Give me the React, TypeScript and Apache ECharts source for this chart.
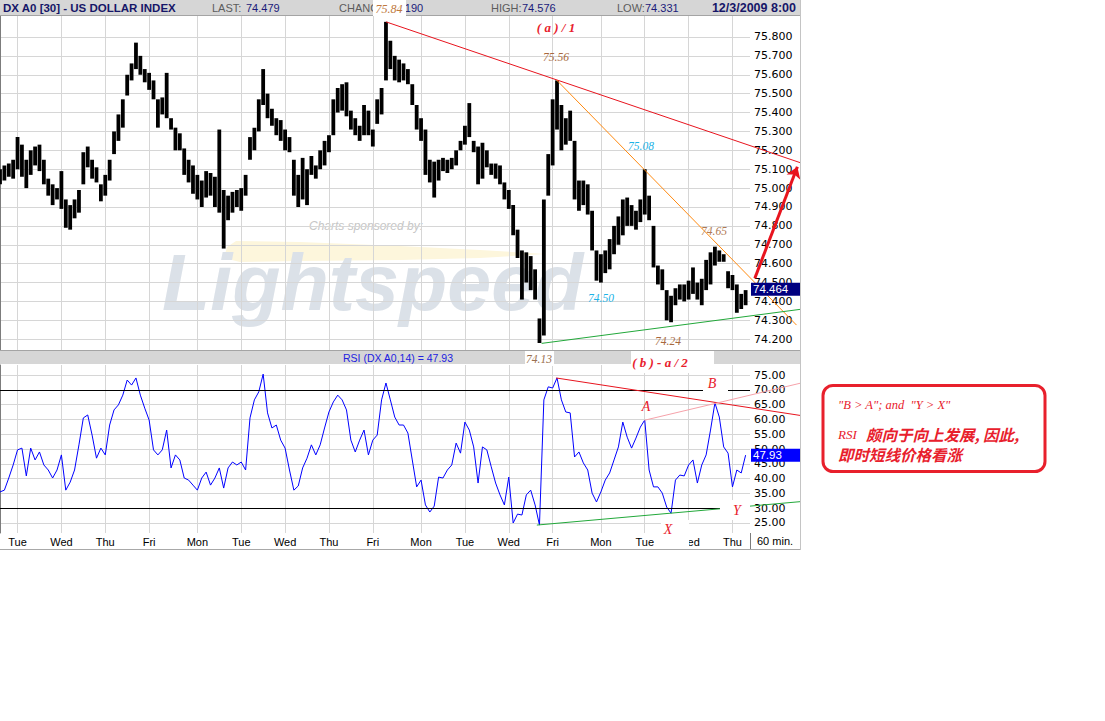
import React, { useEffect, useRef } from 'react';
import * as echarts from 'echarts';

// ---------- data ----------
const DAY_NAMES = ['Tue', 'Wed', 'Thu', 'Fri', 'Mon', 'Tue', 'Wed', 'Thu', 'Fri', 'Mon', 'Tue', 'Wed', 'Fri', 'Mon', 'Tue', 'Wed', 'Thu'];
const DAY_START = [4, 14, 24, 34, 45, 55, 65, 75, 85, 96, 106, 116, 126, 137, 147, 157, 167];
const PRICE_TICKS = [74.2, 74.3, 74.4, 74.5, 74.6, 74.7, 74.8, 74.9, 75.0, 75.1, 75.2, 75.3, 75.4, 75.5, 75.6, 75.7, 75.8];
const RSI_TICKS = [25, 30, 35, 40, 45, 50, 55, 60, 65, 70, 75];
const RSI_LEVELS = [70, 30];
const X_RANGE = [0, 171];
const PRICE_RANGE = [74.143, 75.911];
const RSI_RANGE = [21.62, 78.38];

const HIGH = [
  75.10, 75.12, 75.13, 75.15, 75.27, 75.23, 75.15, 75.20, 75.22, 75.23,
  75.15, 75.05, 75.02, 75.00, 75.09, 74.94, 74.91, 74.94, 74.99, 75.19,
  75.22, 75.15, 75.11, 75.02, 75.07, 75.15, 75.30, 75.39, 75.47, 75.60,
  75.66, 75.77, 75.70, 75.63, 75.61, 75.57, 75.47, 75.48, 75.61, 75.37,
  75.32, 75.29, 75.21, 75.15, 75.12, 75.07, 75.04, 75.09, 75.08, 75.06,
  75.31, 74.99, 74.96, 74.98, 74.99, 75.00, 75.07, 75.27, 75.32, 75.47,
  75.63, 75.50, 75.42, 75.37, 75.36, 75.31, 75.27, 75.15, 75.07, 75.16,
  75.10, 75.17, 75.12, 75.20, 75.25, 75.28, 75.47, 75.53, 75.55, 75.56,
  75.41, 75.37, 75.33, 75.44, 75.41, 75.31, 75.47, 75.53, 75.88, 75.78,
  75.70, 75.68, 75.66, 75.63, 75.55, 75.44, 75.37, 75.31, 75.15, 75.14,
  75.15, 75.16, 75.15, 75.16, 75.20, 75.25, 75.33, 75.45, 75.25, 75.22,
  75.24, 75.20, 75.13, 75.13, 75.12, 75.03, 74.99, 74.91, 74.78, 74.67,
  74.66, 74.64, 74.57, 74.31, 74.94, 75.18, 75.47, 75.57, 75.44, 75.37,
  75.41, 75.25, 75.04, 75.04, 75.02, 74.88, 74.67, 74.65, 74.67, 74.73,
  74.80, 74.85, 74.94, 74.95, 74.91, 74.88, 74.94, 75.10, 74.96, 74.80,
  74.59, 74.57, 74.46, 74.43, 74.47, 74.49, 74.49, 74.51, 74.58, 74.50,
  74.52, 74.62, 74.66, 74.69, 74.67, 74.65, 74.56, 74.54, 74.49, 74.44,
  74.46,
];

const LOW = [
  75.02, 75.04, 75.06, 75.05, 75.10, 75.06, 75.00, 75.07, 75.12, 75.09,
  75.02, 74.96, 74.91, 74.94, 74.89, 74.79, 74.78, 74.84, 74.87, 75.02,
  75.11, 75.05, 75.03, 74.93, 74.96, 75.04, 75.18, 75.25, 75.32, 75.49,
  75.57, 75.63, 75.60, 75.56, 75.52, 75.47, 75.32, 75.39, 75.37, 75.31,
  75.20, 75.20, 75.07, 75.03, 74.97, 74.94, 74.90, 74.95, 74.96, 74.90,
  74.87, 74.68, 74.83, 74.87, 74.90, 74.88, 74.96, 75.15, 75.20, 75.30,
  75.44, 75.37, 75.33, 75.28, 75.25, 75.20, 75.19, 74.96, 74.90, 74.94,
  74.91, 75.07, 75.05, 75.10, 75.12, 75.19, 75.28, 75.40, 75.41, 75.38,
  75.31, 75.28, 75.25, 75.28, 75.28, 75.22, 75.34, 75.39, 75.57, 75.63,
  75.57, 75.56, 75.57, 75.55, 75.44, 75.31, 75.25, 75.07, 75.03, 74.95,
  75.04, 75.09, 75.08, 75.10, 75.12, 75.20, 75.23, 75.27, 75.19, 75.02,
  75.05, 75.11, 75.07, 75.05, 75.02, 74.94, 74.89, 74.75, 74.63, 74.41,
  74.50, 74.46, 74.41, 74.18, 74.22, 74.96, 75.12, 75.31, 75.20, 75.23,
  75.25, 74.94, 74.88, 74.91, 74.86, 74.67, 74.51, 74.50, 74.55, 74.57,
  74.65, 74.70, 74.75, 74.80, 74.80, 74.78, 74.82, 74.86, 74.83, 74.58,
  74.49, 74.46, 74.30, 74.29, 74.38, 74.41, 74.40, 74.41, 74.44, 74.41,
  74.38, 74.46, 74.49, 74.59, 74.61, 74.61, 74.47, 74.46, 74.34, 74.36,
  74.38,
];

const RSI = [
  35.5, 36.1, 40.2, 44.6, 49.7, 50.3, 40.9, 50.3, 46.3, 49.0,
  44.6, 42.9, 40.2, 42.9, 48.0, 36.1, 38.8, 42.9, 51.4, 60.5,
  61.5, 54.7, 46.9, 50.3, 48.0, 58.1, 63.2, 64.9, 68.2, 73.3,
  71.6, 74.0, 68.2, 63.8, 59.8, 49.7, 48.0, 49.7, 56.4, 43.6,
  48.0, 46.3, 40.2, 39.5, 37.8, 36.1, 40.2, 42.2, 37.8, 40.2,
  43.6, 36.8, 43.6, 45.6, 44.6, 45.6, 42.9, 60.5, 66.6, 69.3,
  75.3, 62.2, 57.1, 58.1, 53.0, 50.3, 42.9, 36.1, 37.5, 43.6,
  46.9, 51.4, 48.0, 51.4, 57.1, 62.5, 65.9, 68.2, 66.6, 63.2,
  53.0, 49.0, 53.0, 56.4, 48.0, 53.0, 54.7, 66.6, 72.3, 66.6,
  60.8, 58.1, 58.1, 55.4, 46.3, 37.2, 39.5, 31.1, 28.7, 30.7,
  40.5, 40.2, 42.9, 44.6, 52.0, 48.6, 59.1, 56.4, 50.7, 38.5,
  50.7, 49.7, 44.0, 38.5, 34.5, 31.1, 40.5, 25.0, 28.0, 27.7,
  34.5, 36.1, 31.1, 24.3, 66.6, 71.0, 70.6, 74.0, 66.6, 62.5,
  62.2, 47.3, 49.0, 45.3, 42.9, 35.1, 32.1, 35.5, 39.5, 41.9,
  46.3, 50.7, 59.1, 54.0, 50.3, 53.7, 57.4, 59.8, 42.9, 37.2,
  37.2, 35.1, 30.4, 28.3, 39.5, 41.2, 40.9, 44.6, 46.3, 38.5,
  44.6, 48.0, 56.4, 65.6, 60.8, 50.7, 48.6, 37.2, 42.9, 41.9,
  47.93,
];

const LAST_PRICE = 74.464;
const HEADER_LAST = '74.479';
const HEADER_CHANGE = '-0.190';
const HEADER_HIGH = '74.576';
const HEADER_LOW = '74.331';
const HEADER_DATE = '12/3/2009 8:00';

// trend lines in (bar index, value)
const PRICE_RESISTANCE = [[88, 75.88], [182.4, 75.135]];
const PRICE_DOWN = [[126.9, 75.572], [181.6, 74.275]];
const PRICE_SUPPORT = [[123.5, 74.178], [182.4, 74.358]];
const PRICE_ARROW = [[172.1, 74.523], [181.8, 75.113]];
const RSI_RESISTANCE = [[126.8, 74.0], [182.4, 61.35]];
const RSI_AB = [[146.9, 59.7], [182.4, 72.2]];
const RSI_SUPPORT = [[122.4, 24.3], [182.4, 32.2]];

// ---------- helpers ----------
const SANS = '"Liberation Sans", Arial, sans-serif';
const SERIF = '"Liberation Serif", "Times New Roman", serif';
const RED = '#e8202c';
const BROWN = '#a8683c';
const CYAN = '#1cb2e6';
const NAVY = '#161668';

function txt(x: number, y: number, text: string, font: string, fill: string, align = 'left', z = 110) {
  return { type: 'text', x, y, z, silent: true, style: { text, font, fill, textAlign: align, textVerticalAlign: 'middle' } };
}
function box(x: number, y: number, w: number, h: number, fill: string, z = 105) {
  return { type: 'rect', z, silent: true, shape: { x, y, width: w, height: h }, style: { fill } };
}
function hline(x1: number, y1: number, x2: number, y2: number, stroke: string, z = 104) {
  return { type: 'line', z, silent: true, shape: { x1, y1, x2, y2 }, style: { stroke, lineWidth: 1 } };
}

function buildOption(): any {
  return {
    animation: false,
    backgroundColor: '#ffffff',
    grid: [
      { left: 0, top: 16, width: 750, height: 334 },
      { left: 0, top: 365, width: 750, height: 168 },
    ],
    xAxis: [0, 1].map((gi) => ({
      type: 'value',
      gridIndex: gi,
      min: X_RANGE[0],
      max: X_RANGE[1],
      axisLine: { show: false },
      axisTick: { show: false, customValues: DAY_START },
      splitLine: { show: true, lineStyle: { color: '#d6d6d6', width: 1 } },
      axisLabel: {
        show: gi === 1,
        customValues: DAY_START,
        formatter: (v: number) => DAY_NAMES[DAY_START.indexOf(Math.round(v))] || '',
        fontFamily: SANS,
        fontSize: 11,
        color: '#000',
        margin: 3,
      },
    })),
    yAxis: [
      {
        type: 'value',
        gridIndex: 0,
        position: 'right',
        min: PRICE_RANGE[0],
        max: PRICE_RANGE[1],
        axisLine: { show: true, lineStyle: { color: '#7c7c7c' } },
        axisTick: { show: false, customValues: PRICE_TICKS },
        splitLine: { show: true, lineStyle: { color: '#d6d6d6' } },
        axisLabel: {
          customValues: PRICE_TICKS,
          formatter: (v: number) => v.toFixed(3),
          fontFamily: '"DejaVu Sans", sans-serif',
          fontSize: 11,
          color: '#000',
          margin: 4,
        },
      },
      {
        type: 'value',
        gridIndex: 1,
        position: 'right',
        min: RSI_RANGE[0],
        max: RSI_RANGE[1],
        axisLine: { show: true, lineStyle: { color: '#7c7c7c' } },
        axisTick: { show: false, customValues: RSI_TICKS },
        splitLine: { show: true, lineStyle: { color: '#d6d6d6' } },
        axisLabel: {
          customValues: RSI_TICKS,
          formatter: (v: number) => v.toFixed(2),
          fontFamily: '"DejaVu Sans", sans-serif',
          fontSize: 11,
          color: '#000',
          margin: 4,
        },
      },
    ],
    series: [
      {
        type: 'custom',
        name: 'DX A0',
        xAxisIndex: 0,
        yAxisIndex: 0,
        data: HIGH.map((h, i) => [i, h, LOW[i]]),
        encode: { x: 0, y: [1, 2] },
        z: 3,
        renderItem: (params: any, api: any) => {
          const x = api.value(0);
          const top = api.coord([x, api.value(1)]);
          const bot = api.coord([x, api.value(2)]);
          const w = 3.8;
          return {
            type: 'rect',
            shape: { x: top[0] - w / 2, y: top[1], width: w, height: Math.max(1.5, bot[1] - top[1]) },
            style: { fill: '#000' },
          };
        },
      },
      {
        type: 'line',
        name: 'RSI',
        xAxisIndex: 1,
        yAxisIndex: 1,
        data: RSI.map((v, i) => [i, v]),
        showSymbol: false,
        symbol: 'none',
        lineStyle: { color: '#0000ff', width: 1 },
        z: 3,
        markLine: {
          silent: true,
          symbol: ['none', 'none'],
          label: { show: false },
          lineStyle: { color: '#000', type: 'solid', width: 1, opacity: 1 },
          data: RSI_LEVELS.map((v) => ({ yAxis: v })),
        },
      },
      {
        type: 'lines',
        coordinateSystem: 'cartesian2d',
        xAxisIndex: 0,
        yAxisIndex: 0,
        clip: false,
        silent: true,
        z: 6,
        lineStyle: { width: 1, opacity: 1, curveness: 0 },
        data: [
          { coords: PRICE_RESISTANCE, lineStyle: { color: '#e8141e', width: 1, opacity: 1 } },
          { coords: PRICE_DOWN, lineStyle: { color: '#ff8a10', width: 1, opacity: 1 } },
          { coords: PRICE_SUPPORT, lineStyle: { color: '#22a83a', width: 1, opacity: 1 } },
        ],
      },
      {
        type: 'lines',
        coordinateSystem: 'cartesian2d',
        xAxisIndex: 0,
        yAxisIndex: 0,
        clip: false,
        silent: true,
        z: 7,
        symbol: ['none', 'arrow'],
        symbolSize: 11,
        lineStyle: { color: '#e8141e', width: 3, opacity: 1 },
        data: [{ coords: PRICE_ARROW }],
      },
      {
        type: 'lines',
        coordinateSystem: 'cartesian2d',
        xAxisIndex: 1,
        yAxisIndex: 1,
        clip: false,
        silent: true,
        z: 6,
        lineStyle: { width: 1, opacity: 1 },
        data: [
          { coords: RSI_RESISTANCE, lineStyle: { color: '#e8141e', width: 1, opacity: 1 } },
          { coords: RSI_AB, lineStyle: { color: '#f6a2aa', width: 1, opacity: 1 } },
          { coords: RSI_SUPPORT, lineStyle: { color: '#22a83a', width: 1, opacity: 1 } },
        ],
      },
    ],
  };
}

function buildGraphics(yLast: number, yRsi: number): any[] {
  const g: any[] = [];
  // watermark
  g.push({
    type: 'polygon', z: -1, silent: true,
    shape: { points: [[224, 258], [227, 247], [236, 241], [300, 242], [400, 246], [480, 250], [545, 254], [480, 258], [400, 260], [300, 261], [240, 262]] },
    style: { fill: '#fdf6dc' },
  });
  g.push({ type: 'text', z: -1, silent: true, x: 162, y: 282, style: { text: 'Lightspeed', font: 'italic bold 79px "Liberation Sans", Arial, sans-serif', fill: '#dbe1e8', textVerticalAlign: 'middle' } });
  g.push({ type: 'text', z: -1, silent: true, x: 309, y: 226, style: { text: 'Charts sponsored by:', font: 'italic 12px "Liberation Sans", Arial, sans-serif', fill: '#c6c6c6', textVerticalAlign: 'middle' } });

  // header bar
  g.push(box(0, 0, 800, 15, '#d6d6d6', 100));
  g.push(hline(0, 15.5, 800, 15.5, '#a4a4a4', 101));
  g.push(txt(3, 8, 'DX A0 [30] - US DOLLAR INDEX', `bold 11.5px ${SANS}`, NAVY));
  g.push(txt(212, 8, 'LAST:', `11px ${SANS}`, '#5c5c5c'));
  g.push(txt(246, 8, HEADER_LAST, `11px ${SANS}`, '#1a1a7a'));
  g.push(txt(339, 8, 'CHANGE:', `11px ${SANS}`, '#5c5c5c'));
  g.push(txt(392, 8, HEADER_CHANGE, `11px ${SANS}`, '#1a1a7a'));
  g.push(txt(491, 8, 'HIGH:', `11px ${SANS}`, '#5c5c5c'));
  g.push(txt(522, 8, HEADER_HIGH, `11px ${SANS}`, '#1a1a7a'));
  g.push(txt(617, 8, 'LOW:', `11px ${SANS}`, '#5c5c5c'));
  g.push(txt(645, 8, HEADER_LOW, `11px ${SANS}`, '#1a1a7a'));
  g.push(txt(796, 8, HEADER_DATE, `bold 12.5px ${SANS}`, NAVY, 'right'));

  // RSI header bar
  g.push(box(0, 350, 800, 14, '#d6d6d6', 100));
  g.push(hline(0, 350.5, 800, 350.5, '#a4a4a4', 101));
  g.push(txt(343, 357.5, 'RSI (DX A0,14) = 47.93', `10.5px ${SANS}`, '#2222e0'));

  // frame
  g.push(hline(750.5, 533, 750.5, 550, '#7c7c7c', 101));
  g.push(hline(0, 549.5, 801, 549.5, '#a8a8a8', 101));
  g.push(hline(800.5, 0, 800.5, 550, '#c4c4c4', 101));
  g.push(txt(757, 541, '60 min.', `11px ${SANS}`, '#000'));

  // annotation boxes (white backgrounds), above header texts
  g.push(box(373, 0, 33, 16, '#ffffff', 120));
  g.push(box(525, 351, 29, 15, '#ffffff', 120));
  g.push(box(631, 351, 83, 22, '#ffffff', 120));
  g.push(box(703, 376, 25, 17, '#ffffff', 120));
  g.push(box(720, 500, 30, 20, '#ffffff', 120));
  g.push(box(661, 520, 28, 29, '#ffffff', 120));

  // price annotations
  g.push(txt(389, 9, '75.84', `italic 12px ${SERIF}`, '#c07840', 'center', 125));
  g.push(txt(556, 27, '( a ) / 1', `bold italic 13px ${SERIF}`, RED, 'center', 125));
  g.push(txt(556, 57, '75.56', `italic 11.5px ${SERIF}`, BROWN, 'center', 125));
  g.push(txt(641, 146, '75.08', `italic 11.5px ${SERIF}`, CYAN, 'center', 125));
  g.push(txt(714, 231, '74.65', `italic 11.5px ${SERIF}`, '#b07a54', 'center', 125));
  g.push(txt(601, 298, '74.50', `italic 11.5px ${SERIF}`, CYAN, 'center', 125));
  g.push(txt(668, 341, '74.24', `italic 11.5px ${SERIF}`, BROWN, 'center', 125));
  g.push(txt(539, 359, '74.13', `italic 11.5px ${SERIF}`, '#9a7050', 'center', 125));
  g.push(txt(660, 362, '( b ) - a / 2', `bold italic 13px ${SERIF}`, RED, 'center', 125));
  // RSI annotations
  g.push(txt(646, 406, 'A', `italic 14px ${SERIF}`, RED, 'center', 125));
  g.push(txt(712, 383, 'B', `italic 14px ${SERIF}`, RED, 'center', 125));
  g.push(txt(668, 529, 'X', `italic 14px ${SERIF}`, RED, 'center', 125));
  g.push(txt(737, 510, 'Y', `italic 14px ${SERIF}`, RED, 'center', 125));

  // value boxes
  g.push(box(751, yLast - 6.5, 49, 13, '#000080', 106));
  g.push(txt(753, yLast, LAST_PRICE.toFixed(3), `11.5px ${SANS}`, '#ffffff', 'left', 107));
  g.push(box(751, yRsi - 6.5, 49, 13, '#0000ff', 106));
  g.push(txt(753, yRsi, RSI[RSI.length - 1].toFixed(2), `11.5px ${SANS}`, '#ffffff', 'left', 107));

  // commentary box
  g.push({
    type: 'rect', z: 100, silent: true,
    shape: { x: 823, y: 385.5, width: 222, height: 86, r: 10 },
    style: { fill: '#ffffff', stroke: '#e8202c', lineWidth: 3 },
  });
  g.push(txt(838, 405, '"B > A"; and  "Y > X"', `italic 12.5px ${SERIF}`, RED));
  g.push(txt(838, 434, 'RSI', `italic 13px ${SERIF}`, RED));
  g.push(txt(866, 434, '颇向于向上发展, 因此,', `italic bold 15.5px "Noto Sans CJK SC", sans-serif`, RED));
  g.push(txt(838, 454, '即时短线价格看涨', `italic bold 15.5px "Noto Sans CJK SC", sans-serif`, RED));
  return g;
}

export default function App() {
  const ref = useRef<HTMLDivElement>(null);
  useEffect(() => {
    if (!ref.current) return;
    const chart = echarts.init(ref.current, null, { renderer: 'svg', width: 1105, height: 721 });
    chart.setOption(buildOption());
    const yLast = chart.convertToPixel({ yAxisIndex: 0 }, LAST_PRICE) as number;
    const yRsi = chart.convertToPixel({ yAxisIndex: 1 }, RSI[RSI.length - 1]) as number;
    chart.setOption({ graphic: buildGraphics(yLast, yRsi) });
    return () => chart.dispose();
  }, []);
  return <div ref={ref} style={{ position: 'fixed', left: 0, top: 0, width: 1105, height: 721, background: '#fff' }} />;
}
